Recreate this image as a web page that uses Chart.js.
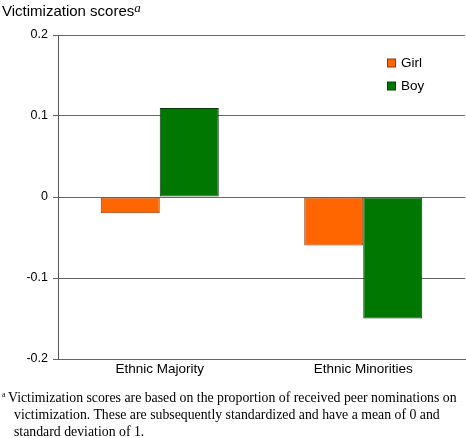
<!DOCTYPE html>
<html>
<head>
<meta charset="utf-8">
<script src="https://cdn.jsdelivr.net/npm/chart.js@4/dist/chart.umd.min.js"></script>
<style>
  html, body { margin: 0; padding: 0; background: #fff; }
  #wrap { position: relative; width: 466px; height: 438px; overflow: hidden; }
  #chart { position: absolute; left: 0; top: 0; }
  #title { position: absolute; left: 2px; top: 2px; font: 15px "Liberation Sans", Arial, sans-serif; color: #000; white-space: nowrap; }
  #title sup { font: italic 13px "Liberation Serif", "Times New Roman", serif; position: relative; top: -2px; vertical-align: top; }
  #note { position: absolute; left: 0; top: 389px; padding-left: 14px; text-indent: -6px; font: 13.8px/17px "Liberation Serif", "Times New Roman", serif; color: #000; white-space: nowrap; }
  #note sup { position: absolute; left: 2px; top: -3px; font-size: 8px; text-indent: 0; }
</style>
</head>
<body>
<div id="wrap">
  <canvas id="chart" width="466" height="438"></canvas>
  <div id="title">Victimization scores<sup>a</sup></div>
  <div id="note"><sup>a</sup>Victimization scores are based on the proportion of received peer nominations on<br>victimization. These are subsequently standardized and have a mean of 0 and<br>standard deviation of 1.</div>
</div>
<script>
const categories = ['Ethnic Majority', 'Ethnic Minorities'];
const seriesNames = ['Girl', 'Boy'];
const girlScores = [-0.02, -0.06];
const boyScores = [0.11, -0.15];
const yTicks = [-0.2, -0.1, 0, 0.1, 0.2];

const fillColors = ['#ff6600', '#007700'];
const edgeColors = ['#8a3a0a', '#0b3a0b'];

// legend drawn inside the plot, top right
const insideLegend = {
  id: 'insideLegend',
  afterDraw(chart) {
    const ctx = chart.ctx;
    ctx.save();
    ctx.font = '13.5px "Liberation Sans", Arial, sans-serif';
    ctx.textBaseline = 'middle';
    chart.data.datasets.forEach((ds, i) => {
      const y = 63.5 + i * 23;
      ctx.fillStyle = ds.backgroundColor;
      ctx.fillRect(387.5, y - 4.5, 8, 8);
      ctx.strokeStyle = ds.borderColor;
      ctx.lineWidth = 1;
      ctx.strokeRect(387.5, y - 4.5, 8, 8);
      ctx.fillStyle = '#000';
      ctx.fillText(ds.label, 401, y);
    });
    ctx.restore();
  }
};

new Chart(document.getElementById('chart'), {
  type: 'bar',
  data: {
    labels: categories,
    datasets: [
      { label: seriesNames[0], data: girlScores, backgroundColor: fillColors[0], borderColor: edgeColors[0], borderWidth: 1, borderSkipped: false },
      { label: seriesNames[1], data: boyScores, backgroundColor: fillColors[1], borderColor: edgeColors[1], borderWidth: 1, borderSkipped: false }
    ]
  },
  options: {
    responsive: false,
    animation: false,
    devicePixelRatio: 1,
    layout: { padding: { top: 35, right: 1, bottom: 55, left: 0 } },
    datasets: { bar: { barPercentage: 1, categoryPercentage: 0.58 } },
    plugins: { legend: { display: false }, tooltip: { enabled: false } },
    scales: {
      x: {
        grid: { display: false, drawTicks: false },
        border: { display: true, color: '#666', width: 1 },
        ticks: { color: '#000', padding: 2, font: { family: '"Liberation Sans", Arial, sans-serif', size: 13.5 } },
        afterFit(scale) { scale.height = 24; }
      },
      y: {
        min: -0.2,
        max: 0.2,
        afterBuildTicks(scale) { scale.ticks = yTicks.map(v => ({ value: v })); },
        grid: { color: '#666', lineWidth: 1, tickLength: 5, drawTicks: true },
        border: { display: true, color: '#555', width: 1 },
        ticks: {
          color: '#000',
          padding: 5,
          font: { family: '"Liberation Sans", Arial, sans-serif', size: 12.5 },
          callback: v => (Math.abs(v) < 1e-9 ? '0' : String(Math.round(v * 10) / 10))
        },
        afterFit(scale) { scale.width = 58; }
      }
    }
  },
  plugins: [insideLegend]
});
</script>
</body>
</html>
